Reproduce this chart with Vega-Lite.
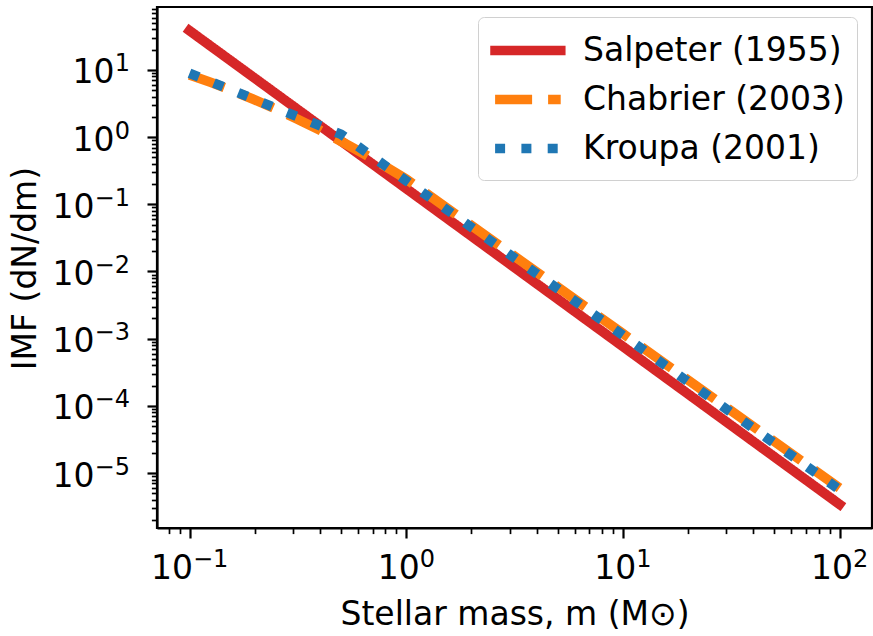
{
  "$schema": "https://vega.github.io/schema/vega-lite/v6.json",
  "width": 715,
  "height": 521,
  "autosize": {"type": "none"},
  "padding": {"left": 157, "top": 7, "right": 1, "bottom": 108},
  "background": "white",
  "config": {
    "font": "DejaVu Sans",
    "view": {"stroke": "black", "strokeWidth": 2.2},
    "axis": {
      "domainColor": "black", "domainWidth": 2.2,
      "tickColor": "black", "tickWidth": 2.2, "tickSize": 10,
      "grid": false,
      "labelFont": "DejaVu Sans", "labelFontSize": 33, "labelColor": "black",
      "labelFlush": false, "labelOverlap": false, "labelBound": false,
      "titleFont": "DejaVu Sans", "titleFontSize": 33, "titleFontWeight": "normal", "titleColor": "black"
    }
  },
  "data": {
    "values": [
      {"series": "Salpeter (1955)", "m": 0.1, "imf": 38.42},
      {"series": "Salpeter (1955)", "m": 1, "imf": 0.1716},
      {"series": "Salpeter (1955)", "m": 10, "imf": 0.000766},
      {"series": "Salpeter (1955)", "m": 100, "imf": 3.42e-6},
      {"series": "Chabrier (2003)", "m": 0.1, "imf": 8.431},
      {"series": "Chabrier (2003)", "m": 0.1259, "imf": 6.486},
      {"series": "Chabrier (2003)", "m": 0.1585, "imf": 4.886},
      {"series": "Chabrier (2003)", "m": 0.1995, "imf": 3.604},
      {"series": "Chabrier (2003)", "m": 0.2512, "imf": 2.603},
      {"series": "Chabrier (2003)", "m": 0.3162, "imf": 1.841},
      {"series": "Chabrier (2003)", "m": 0.3981, "imf": 1.2755},
      {"series": "Chabrier (2003)", "m": 0.5012, "imf": 0.865},
      {"series": "Chabrier (2003)", "m": 0.631, "imf": 0.5744},
      {"series": "Chabrier (2003)", "m": 0.7943, "imf": 0.3735},
      {"series": "Chabrier (2003)", "m": 1, "imf": 0.2379},
      {"series": "Chabrier (2003)", "m": 10, "imf": 0.001192},
      {"series": "Chabrier (2003)", "m": 100, "imf": 5.98e-6},
      {"series": "Kroupa (2001)", "m": 0.1, "imf": 8.95},
      {"series": "Kroupa (2001)", "m": 0.5, "imf": 1.105},
      {"series": "Kroupa (2001)", "m": 1, "imf": 0.2245},
      {"series": "Kroupa (2001)", "m": 10, "imf": 0.001125},
      {"series": "Kroupa (2001)", "m": 100, "imf": 5.64e-6}
    ]
  },
  "layer": [
    {
      "mark": {"type": "point", "opacity": 0},
      "encoding": {
        "x": {"field": "m", "type": "quantitative",
          "scale": {"type": "log", "domain": [0.07079, 141.25], "nice": false},
          "axis": {"orient": "bottom", "values": [0.08, 0.09, 0.2, 0.3, 0.4, 0.5, 0.6, 0.7, 0.8, 0.9, 2, 3, 4, 5, 6, 7, 8, 9, 20, 30, 40, 50, 60, 70, 80, 90],
            "labels": false, "domain": false, "tickSize": 5.6, "tickWidth": 1.7, "title": null}},
        "y": {"field": "imf", "type": "quantitative",
          "scale": {"type": "log", "domain": [1.519e-6, 86.4], "nice": false},
          "axis": {"orient": "left", "values": [2e-6, 3e-6, 4e-6, 5e-6, 6e-6, 7e-6, 8e-6, 9e-6, 2e-5, 3e-5, 4e-5, 5e-5, 6e-5, 7e-5, 8e-5, 9e-5, 0.0002, 0.0003, 0.0004, 0.0005, 0.0006, 0.0007, 0.0008, 0.0009, 0.002, 0.003, 0.004, 0.005, 0.006, 0.007, 0.008, 0.009, 0.02, 0.03, 0.04, 0.05, 0.06, 0.07, 0.08, 0.09, 0.2, 0.3, 0.4, 0.5, 0.6, 0.7, 0.8, 0.9, 2, 3, 4, 5, 6, 7, 8, 9, 20, 30, 40, 50, 60, 70, 80],
            "labels": false, "domain": false, "tickSize": 5.6, "tickWidth": 1.7, "title": null}}
      }
    },
    {
      "mark": {"type": "point", "opacity": 0},
      "encoding": {
        "x": {"field": "m", "type": "quantitative",
          "scale": {"type": "log", "domain": [0.07079, 141.25], "nice": false},
          "axis": {"orient": "bottom", "values": [0.1, 1, 10, 100],
            "ticks": false, "tickSize": 0, "domain": false, "title": null,
            "labelExpr": "datum.value < 0.5 ? '−1' : datum.value < 5 ? '0' : datum.value < 50 ? '1' : '2'",
            "labelFontSize": 24, "labelAlign": "left", "labelBaseline": "alphabetic",
            "labelPadding": 38,
            "labelOffset": {"condition": {"test": "datum.value < 0.5", "value": 3}, "value": 13}}},
        "y": {"field": "imf", "type": "quantitative",
          "scale": {"type": "log", "domain": [1.519e-6, 86.4], "nice": false},
          "axis": {"orient": "left", "values": [1e-5, 0.0001, 0.001, 0.01, 0.1, 1, 10],
            "ticks": false, "tickSize": 0, "domain": false, "title": null,
            "labelExpr": "datum.value > 5 ? '1' : datum.value > 0.5 ? '0' : datum.value > 0.05 ? '−1' : datum.value > 0.005 ? '−2' : datum.value > 0.0005 ? '−3' : datum.value > 0.00005 ? '−4' : '−5'",
            "labelFontSize": 24, "labelAlign": "right", "labelBaseline": "alphabetic",
            "labelPadding": 27.5, "labelOffset": 1}}
      }
    },
    {
      "encoding": {
        "x": {"field": "m", "type": "quantitative",
          "scale": {"type": "log", "domain": [0.07079, 141.25], "nice": false},
          "axis": {"orient": "bottom", "values": [0.1, 1, 10, 100],
            "labelExpr": "'10'",
            "labelAlign": "right", "labelBaseline": "alphabetic",
            "labelPadding": 40,
            "labelOffset": {"condition": {"test": "datum.value < 0.5", "value": 3}, "value": 13},
            "title": "Stellar mass, m (M⊙)", "titleY": 96, "titleBaseline": "alphabetic"}},
        "y": {"field": "imf", "type": "quantitative",
          "scale": {"type": "log", "domain": [1.519e-6, 86.4], "nice": false},
          "axis": {"orient": "left", "values": [1e-5, 0.0001, 0.001, 0.01, 0.1, 1, 10],
            "labelExpr": "'10'",
            "labelAlign": "right", "labelBaseline": "alphabetic",
            "labelPadding": {"condition": {"test": "datum.value < 0.5", "value": 53}, "value": 33},
            "labelOffset": 13,
            "title": "IMF (dN/dm)", "titleX": -122, "titleY": 261, "titleBaseline": "alphabetic"}},
        "color": {"field": "series", "type": "nominal",
          "scale": {"domain": ["Salpeter (1955)", "Chabrier (2003)", "Kroupa (2001)"], "range": ["#d62728", "#ff7f0e", "#1f77b4"]},
          "legend": {"orient": "none", "legendX": 321, "legendY": 10, "title": null,
            "symbolType": "M-1,0H3", "symbolSize": 1076, "symbolStrokeWidth": 9.7,
            "labelFontSize": 33, "labelFont": "DejaVu Sans", "labelColor": "black", "labelLimit": 500,
            "labelOffset": 50, "rowPadding": 8, "padding": 12,
            "strokeColor": "#d0d0d0", "fillColor": "white", "cornerRadius": 6,
            "encode": {"symbols": {"update": {"strokeCap": {"signal": "datum.value == 'Salpeter (1955)' ? 'square' : 'butt'"}}}}}},
        "strokeDash": {"field": "series", "type": "nominal",
          "scale": {"domain": ["Salpeter (1955)", "Chabrier (2003)", "Kroupa (2001)"], "range": [[1, 0], [37, 16], [10, 16.3]]},
          "legend": {"orient": "none", "legendX": 321, "legendY": 10, "title": null,
            "symbolType": "M-1,0H3", "symbolSize": 1076, "symbolStrokeWidth": 9.7,
            "labelFontSize": 33, "labelFont": "DejaVu Sans", "labelColor": "black", "labelLimit": 500,
            "labelOffset": 50, "rowPadding": 8, "padding": 12,
            "strokeColor": "#d0d0d0", "fillColor": "white", "cornerRadius": 6,
            "encode": {"symbols": {"update": {"strokeCap": {"signal": "datum.value == 'Salpeter (1955)' ? 'square' : 'butt'"}}}}}}
      },
      "layer": [
        {"transform": [{"filter": "datum.series == 'Salpeter (1955)'"}],
         "mark": {"type": "line", "strokeWidth": 9.7, "strokeCap": "square"}},
        {"transform": [{"filter": "datum.series == 'Chabrier (2003)'"}],
         "mark": {"type": "line", "strokeWidth": 9.7, "strokeCap": "butt"}},
        {"transform": [{"filter": "datum.series == 'Kroupa (2001)'"}],
         "mark": {"type": "line", "strokeWidth": 9.7, "strokeCap": "butt"}}
      ]
    }
  ],
  "resolve": {"axis": {"x": "independent", "y": "independent"}}
}
